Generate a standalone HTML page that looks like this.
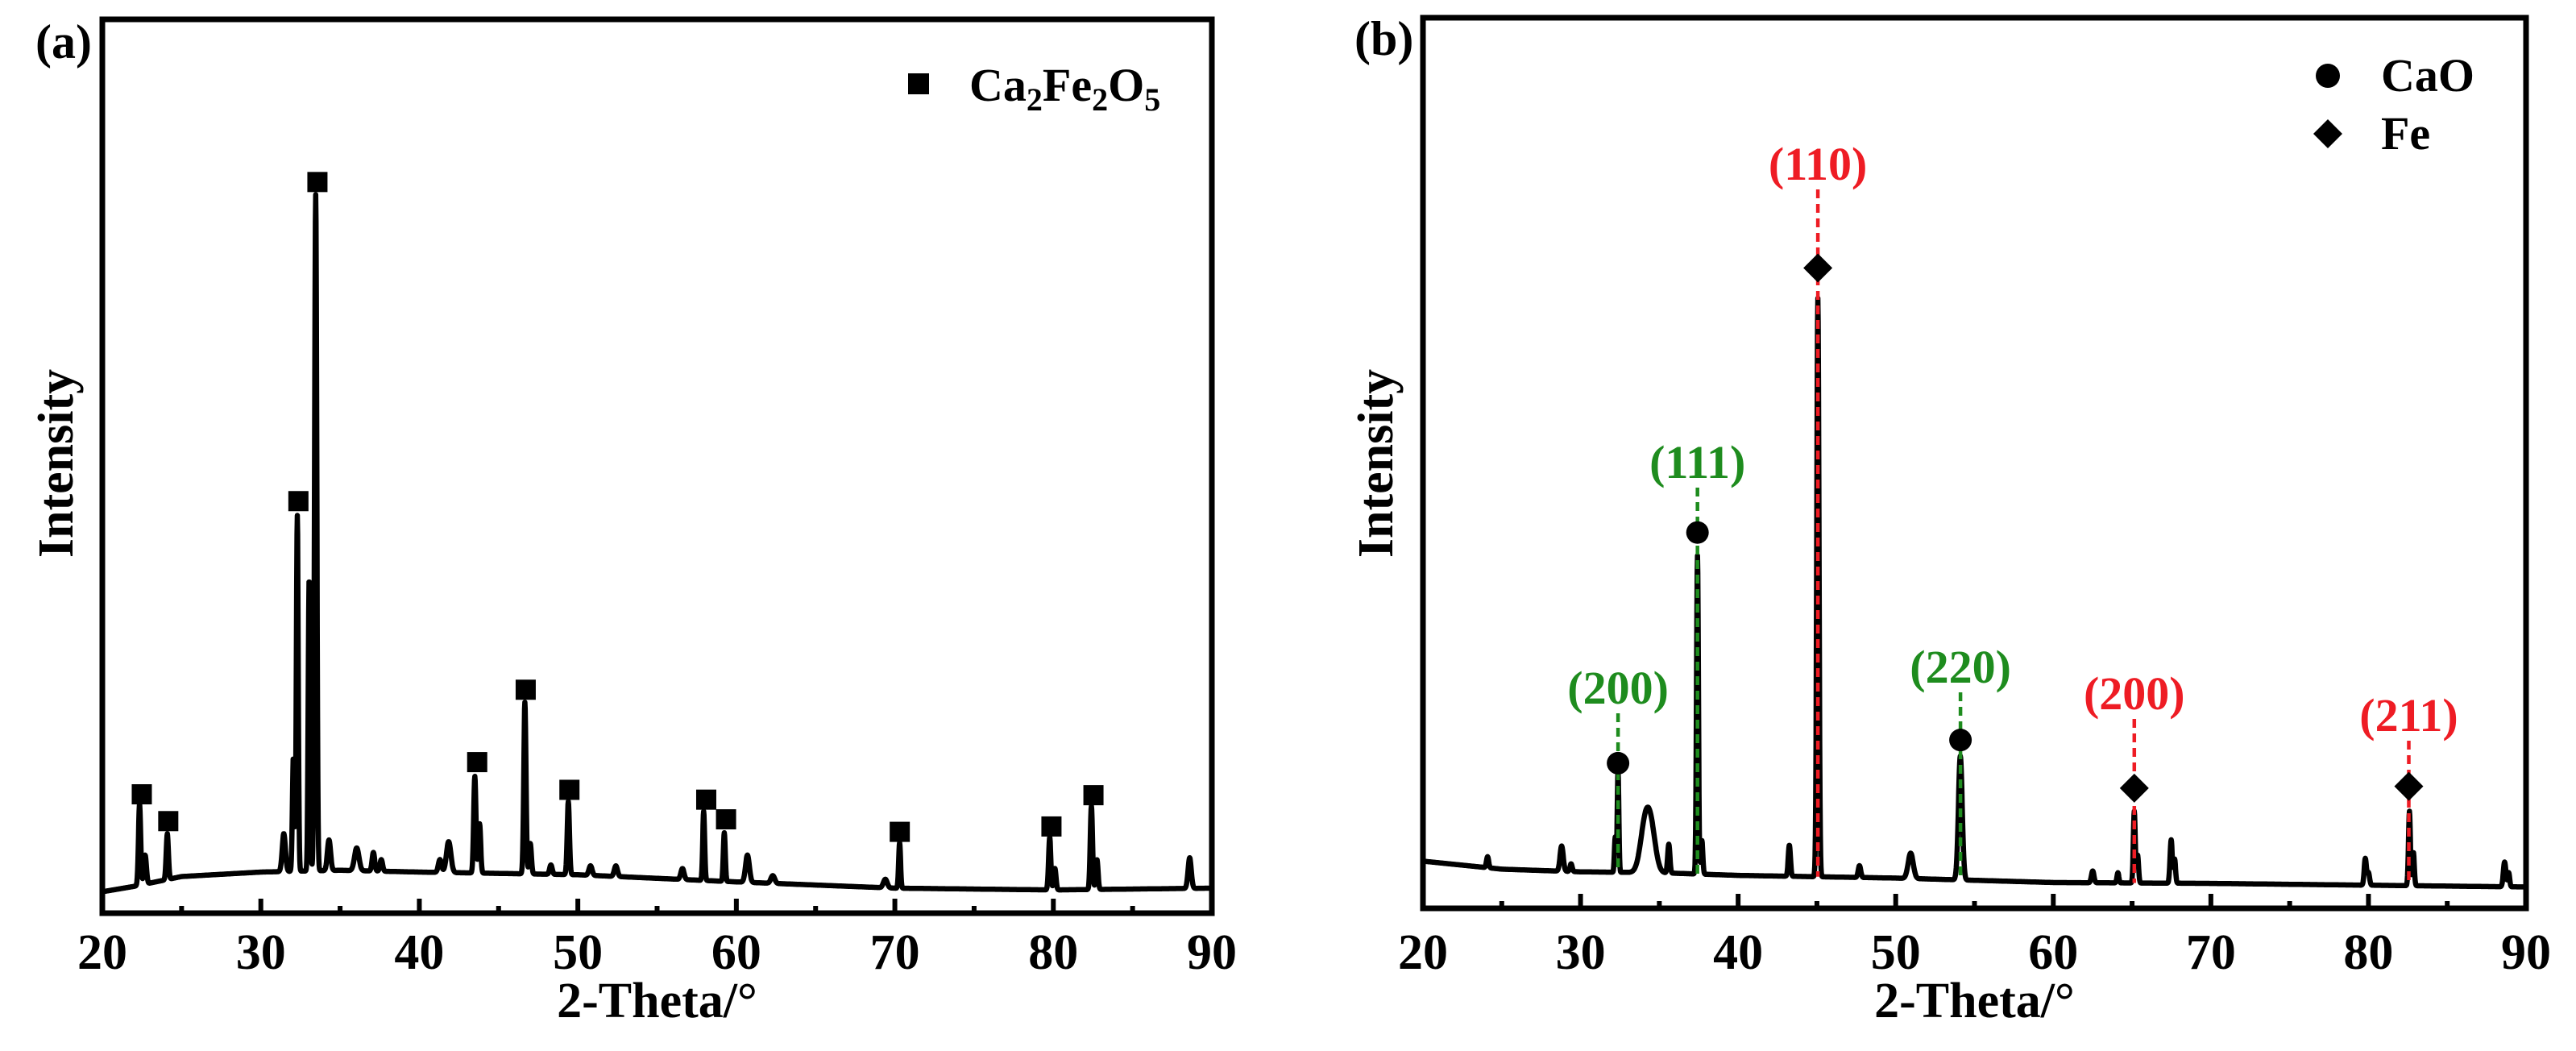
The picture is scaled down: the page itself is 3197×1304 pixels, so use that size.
<!DOCTYPE html>
<html><head><meta charset="utf-8"><style>
html,body{margin:0;padding:0;background:#fff;}
svg{display:block;font-family:"Liberation Serif",serif;font-weight:bold;}
</style></head><body>
<svg id="fig" width="3197" height="1304" viewBox="0 0 3197 1304" xmlns="http://www.w3.org/2000/svg">
<g id="pa"></g>
<g id="pb"></g>
</svg>
<script>
// ---- Panel (a) data ----
const xTicks = [20, 30, 40, 50, 60, 70, 80, 90];
const aBaseX = [20, 22, 25, 30, 35, 40, 50, 60, 70, 80, 90];
const aBaseY = [2.4, 3.0, 4.1, 4.6, 4.8, 4.6, 4.3, 3.5, 2.8, 2.6, 2.8];
const aPeakPos = [22.35, 22.7, 24.1, 31.45, 32.05, 32.3, 33.05, 33.46, 34.3, 36.05, 37.1, 37.6, 41.3, 41.85, 43.5, 43.8, 46.66, 47.0, 48.3, 49.4, 50.8, 52.4, 56.6, 57.94, 59.24, 60.7, 62.3, 69.4, 70.3, 79.77, 80.1, 82.4, 82.75, 88.6];
const aPeakTop = [12.2, 6.5, 8.9, 8.9, 17.4, 44.5, 37.5, 80.4, 8.2, 7.3, 6.8, 6.0, 6.0, 8.0, 15.3, 10.0, 23.6, 7.8, 5.4, 12.5, 5.3, 5.3, 5.0, 11.4, 9.0, 6.5, 4.2, 3.8, 7.9, 8.5, 5.0, 12.0, 6.0, 6.2];
const aPeakW = [0.07, 0.08, 0.07, 0.1, 0.06, 0.06, 0.06, 0.07, 0.1, 0.14, 0.08, 0.08, 0.1, 0.14, 0.07, 0.07, 0.07, 0.07, 0.08, 0.07, 0.1, 0.1, 0.1, 0.06, 0.06, 0.12, 0.12, 0.12, 0.06, 0.07, 0.07, 0.07, 0.07, 0.1];
const aMarkPos = [22.49, 24.16, 32.37, 33.57, 43.65, 46.71, 49.47, 58.1, 59.35, 70.31, 79.88, 82.53];
const aMarkVal = [13.3, 10.3, 46.1, 81.8, 16.9, 25.0, 13.8, 12.7, 10.5, 9.1, 9.7, 13.2];

// ---- Panel (b) data ----
const bBaseX = [20, 25, 30, 35, 40, 50, 60, 70, 80, 90];
const bBaseY = [5.3, 4.4, 4.1, 4.0, 3.7, 3.4, 2.9, 2.8, 2.6, 2.4];
const bPeakPos = [24.1, 28.8, 29.4, 32.2, 32.38, 34.1, 34.5, 35.6, 37.42, 37.7, 43.25, 45.06, 47.7, 50.95, 54.1, 62.5, 64.1, 65.14, 65.35, 67.48, 67.7, 79.8, 80.0, 82.6, 82.85, 88.64, 88.9];
const bPeakTop = [5.8, 7.0, 5.0, 8.0, 15.5, 9.3, 8.0, 7.2, 39.6, 7.6, 7.1, 68.5, 4.8, 6.2, 17.1, 4.2, 4.0, 10.9, 6.0, 7.7, 5.5, 5.6, 4.0, 10.9, 6.3, 5.2, 4.0];
const bPeakW = [0.07, 0.1, 0.07, 0.05, 0.05, 0.3, 0.28, 0.07, 0.06, 0.06, 0.07, 0.07, 0.08, 0.16, 0.12, 0.08, 0.06, 0.06, 0.06, 0.07, 0.06, 0.07, 0.07, 0.06, 0.06, 0.08, 0.06];
const bCaOPos = [32.38, 37.42, 54.11];
const bCaOVal = [16.3, 42.2, 18.9];
const bCaOLabels = ["(200)", "(111)", "(220)"];
const bCaOLabelY = [873, 593, 847];
const bFePos = [45.06, 65.14, 82.56];
const bFeVal = [71.9, 13.5, 13.7];
const bFeLabels = ["(110)", "(200)", "(211)"];
const bFeLabelY = [223, 880, 907];

const NS = "http://www.w3.org/2000/svg";
function mk(parent, tag, attrs) {
  const e = document.createElementNS(NS, tag);
  for (const k in attrs) e.setAttribute(k, attrs[k]);
  parent.appendChild(e);
  return e;
}
function interp(xs, ys, x) {
  if (x <= xs[0]) return ys[0];
  for (let i = 1; i < xs.length; i++) if (x <= xs[i]) {
    const t = (x - xs[i-1]) / (xs[i] - xs[i-1]);
    return ys[i-1] + t * (ys[i] - ys[i-1]);
  }
  return ys[ys.length-1];
}
function spectrum(bx, by, pp, pt, pw, x) {
  let y = interp(bx, by, x);
  for (let i = 0; i < pp.length; i++) {
    const h = pt[i] - interp(bx, by, pp[i]);
    const d = (x - pp[i]) / pw[i];
    y += h * Math.exp(-0.5 * d * d);
  }
  return y;
}
function drawFrame(g, P, label, lx, ly, ytitleX) {
  const X = v => P.x0 + (v - 20) / 70 * (P.x1 - P.x0);
  for (let v = 25; v < 90; v += 10) {
    const t = mk(g, "line", {x1: X(v), x2: X(v), y1: P.y1, y2: P.y1 - 9, stroke: "#000", "stroke-width": 6});
    
    
  }
  xTicks.forEach(v => {
    if (v > 20 && v < 90) {
      const t = mk(g, "line", {x1: X(v), x2: X(v), y1: P.y1, y2: P.y1 - 18, stroke: "#000", "stroke-width": 6});
      
      
    }
    const tl = mk(g, "text", {x: X(v), y: 1202, "font-size": 62, "text-anchor": "middle"});
    tl.textContent = v;
    
    
  });
  const fr = mk(g, "rect", {x: P.x0, y: P.y0, width: P.x1 - P.x0, height: P.y1 - P.y0, fill: "none", stroke: "#000", "stroke-width": 7});
  
  
  const xt = mk(g, "text", {x: (P.x0 + P.x1) / 2, y: 1262, "font-size": 62, "text-anchor": "middle"});
  xt.textContent = "2-Theta/°";
  
  
  const yt = mk(g, "text", {x: ytitleX, y: 575, "font-size": 62, "text-anchor": "middle", transform: `rotate(-90 ${ytitleX} 575)`});
  yt.textContent = "Intensity";
  
  
  const pl = mk(g, "text", {x: lx, y: ly, "font-size": 60});
  pl.textContent = label;
  
  
  return X;
}
function drawCurve(g, P, X, bx, by, pp, pt, pw) {
  const Y = v => P.y1 - v / 100 * (P.y1 - P.y0);
  let d = "";
  for (let x = 20; x <= 90.0001; x += 0.02) {
    d += (d ? "L" : "M") + X(x).toFixed(1) + "," + Y(spectrum(bx, by, pp, pt, pw, x)).toFixed(1);
  }
  const c = mk(g, "path", {d: d, fill: "none", stroke: "#000", "stroke-width": 6.5, "stroke-linejoin": "round"});
  
  
  return Y;
}

// Panel a
(function () {
  const g = document.getElementById("pa");
  const P = {x0: 127, x1: 1504, y0: 24, y1: 1133};
  const X = drawFrame(g, P, "(a)", 44, 72, 90);
  const Y = drawCurve(g, P, X, aBaseX, aBaseY, aPeakPos, aPeakTop, aPeakW);
  aMarkPos.forEach((p, i) => {
    const s = mk(g, "rect", {x: X(p) - 12.5, y: Y(aMarkVal[i]) - 12.5, width: 25, height: 25, fill: "#000"});
    
    
  });
  const ls = mk(g, "rect", {x: 1127, y: 91, width: 26, height: 26, fill: "#000"});
  
  
  const lt = mk(g, "text", {x: 1203, y: 125, "font-size": 58});
  lt.innerHTML = 'Ca<tspan font-size="40" dy="12">2</tspan><tspan dy="-12">Fe</tspan><tspan font-size="40" dy="12">2</tspan><tspan dy="-12">O</tspan><tspan font-size="40" dy="12">5</tspan>';
  
  
})();

// Panel b
(function () {
  const g = document.getElementById("pb");
  const P = {x0: 1766, x1: 3135, y0: 22, y1: 1127};
  const X = drawFrame(g, P, "(b)", 1681, 68, 1728);
  const Y = drawCurve(g, P, X, bBaseX, bBaseY, bPeakPos, bPeakTop, bPeakW);
  const green = "#1e8c1e", red = "#ee1c24";
  function diamond(cx, cy, r) { return `M${cx},${cy-r}L${cx+r},${cy}L${cx},${cy+r}L${cx-r},${cy}Z`; }
  bCaOPos.forEach((p, i) => {
    const dl = mk(g, "line", {x1: X(p), x2: X(p), y1: bCaOLabelY[i] + 12, y2: Y(interp(bBaseX, bBaseY, p)), stroke: green, "stroke-width": 4.5, "stroke-dasharray": "11 7"});
    
    
    const c = mk(g, "circle", {cx: X(p), cy: Y(bCaOVal[i]), r: 14, fill: "#000"});
    
    
    const t = mk(g, "text", {x: X(p), y: bCaOLabelY[i], "font-size": 58, "text-anchor": "middle", fill: green});
    t.textContent = bCaOLabels[i];
    
    
  });
  bFePos.forEach((p, i) => {
    const dl = mk(g, "line", {x1: X(p), x2: X(p), y1: bFeLabelY[i] + 12, y2: Y(interp(bBaseX, bBaseY, p)), stroke: red, "stroke-width": 4.5, "stroke-dasharray": "11 7"});
    
    
    const d = mk(g, "path", {d: diamond(X(p), Y(bFeVal[i]), 18), fill: "#000"});
    
    
    const t = mk(g, "text", {x: X(p), y: bFeLabelY[i], "font-size": 58, "text-anchor": "middle", fill: red});
    t.textContent = bFeLabels[i];
    
    
  });
  const lc = mk(g, "circle", {cx: 2889, cy: 94, r: 15, fill: "#000"});
  
  
  const ld = mk(g, "path", {d: diamond(2889, 166, 18), fill: "#000"});
  
  
  const t1 = mk(g, "text", {x: 2955, y: 113, "font-size": 58});
  t1.textContent = "CaO";
  
  
  const t2 = mk(g, "text", {x: 2955, y: 185, "font-size": 58});
  t2.textContent = "Fe";
  
  
})();
</script>
</body></html>
